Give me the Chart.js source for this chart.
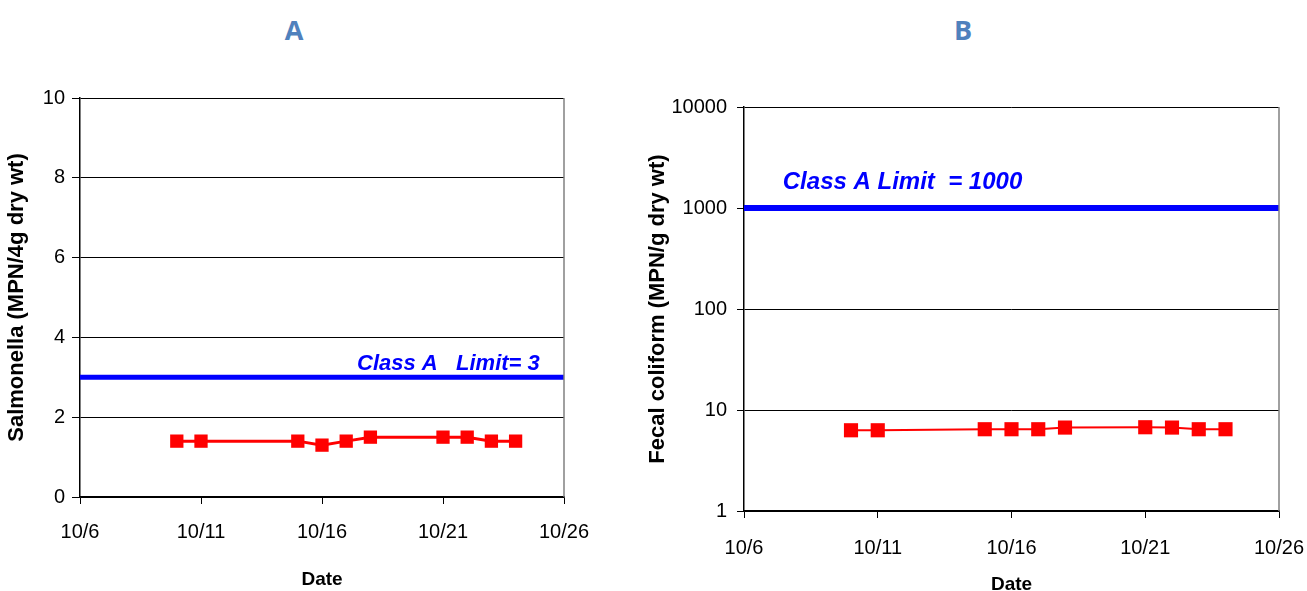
<!DOCTYPE html>
<html>
<head>
<meta charset="utf-8">
<script src="https://cdn.jsdelivr.net/npm/chart.js@4/dist/chart.umd.min.js"></script>
<style>
  html, body { margin: 0; padding: 0; background: #fff; overflow: hidden; }
  body { width: 1307px; height: 591px; position: relative; }
  canvas { position: absolute; top: 0; }
  #chartA { left: 0; }
  #chartB { left: 640px; }
  .panel {
    position: absolute; top: 11px;
    font: bold 27px "Liberation Sans Narrow", "Open Sans", sans-serif;
    color: #4F81BD; transform: translateX(-50%);
  }
</style>
</head>
<body>
<div class="panel" style="left:294px">A</div>
<div class="panel" style="left:963px">B</div>
<canvas id="chartA" width="640" height="591"></canvas>
<canvas id="chartB" width="667" height="600"></canvas>
<script>
// dados
const dates = ['10/10', '10/11', '10/15', '10/16', '10/17', '10/18', '10/21', '10/22', '10/23', '10/24'];
const salmonella = [1.4, 1.4, 1.4, 1.3, 1.4, 1.5, 1.5, 1.5, 1.4, 1.4];
const fecalColiform = [6.3, 6.3, 6.45, 6.45, 6.45, 6.7, 6.75, 6.7, 6.45, 6.45];
const limitRange = ['10/6', '10/26'];
const limitA = 3;
const limitB = 1000;
const xTicks = ['10/6', '10/11', '10/16', '10/21', '10/26'];
const yTicksA = [0, 2, 4, 6, 8, 10];
const yTicksB = [1, 10, 100, 1000, 10000];

const FONT = "'Liberation Sans', Arial, sans-serif";
const day = s => Number(s.split('/')[1]);
const xDays = xTicks.map(day);

// texto da linha limite + borda direita
const extras = {
    id: 'extras',
    afterDatasetsDraw(chart, args, opts) {
        const { ctx, chartArea, scales } = chart;
        ctx.save();
        ctx.strokeStyle = '#808080';
        ctx.lineWidth = 1.5;
        ctx.beginPath();
        ctx.moveTo(chartArea.right, chartArea.top);
        ctx.lineTo(chartArea.right, chartArea.bottom);
        ctx.stroke();
        ctx.font = opts.font;
        ctx.fillStyle = '#0000FF';
        ctx.textAlign = opts.align;
        ctx.textBaseline = 'alphabetic';
        ctx.fillText(opts.text, scales.x.getPixelForValue(opts.x),
            scales.y.getPixelForValue(opts.y) - opts.lift);
        ctx.restore();
    }
};

function xScale(height, pad, titlePad) {
    return {
        type: 'linear',
        min: xDays[0], max: xDays[xDays.length - 1],
        afterBuildTicks: s => { s.ticks = xDays.map(v => ({ value: v })); },
        afterFit: s => { s.height = height; s.paddingRight = 0; },
        ticks: {
            callback: v => '10/' + v,
            font: { family: FONT, size: 20 },
            color: '#000', padding: pad, maxRotation: 0
        },
        grid: { drawOnChartArea: false, tickLength: 7, color: '#000' },
        border: { color: '#000', width: 1.5 },
        title: {
            display: true, text: 'Date', color: '#000',
            font: { family: FONT, size: 19, weight: 'bold' },
            padding: { top: 0, bottom: titlePad }
        }
    };
}

function yTitle(text, padTop) {
    return {
        display: true, text: text, color: '#000',
        font: { family: FONT, size: 22, weight: 'bold' },
        padding: { top: padTop, bottom: 0 }
    };
}

// Gráfico A
new Chart(document.getElementById('chartA'), {
    type: 'line',
    data: {
        datasets: [{
            label: 'Class A   Limit= 3',
            data: limitRange.map(d => ({ x: day(d), y: limitA })),
            borderColor: '#0000FF', borderWidth: 5, pointRadius: 0
        }, {
            label: 'Salmonella',
            data: dates.map((d, i) => ({ x: day(d), y: salmonella[i] })),
            borderColor: '#FF0000', backgroundColor: '#FF0000',
            borderWidth: 3, pointStyle: 'rect', pointRadius: 9.4,
            pointBorderWidth: 0
        }]
    },
    options: {
        responsive: false, animation: false,
        layout: { padding: { top: 98, right: 76, bottom: 0, left: 0 } },
        plugins: {
            legend: { display: false }, tooltip: { enabled: false },
            extras: { text: 'Class A   Limit= 3', x: 25, y: limitA, lift: 7, align: 'right',
                      font: "italic bold 22px " + FONT }
        },
        scales: {
            x: xScale(94, 16, 0),
            y: {
                min: 0, max: 10,
                afterBuildTicks: s => { s.ticks = yTicksA.map(v => ({ value: v })); },
                afterFit: s => { s.width = 80; },
                ticks: { font: { family: FONT, size: 20 }, color: '#000', padding: 7 },
                grid: { color: '#000', tickLength: 8 },
                border: { color: '#000', width: 1.5 },
                title: yTitle('Salmonella (MPN/4g dry wt)', 4)
            }
        }
    },
    plugins: [extras]
});

// Gráfico B
new Chart(document.getElementById('chartB'), {
    type: 'line',
    data: {
        datasets: [{
            label: 'Class A Limit  = 1000',
            data: limitRange.map(d => ({ x: day(d), y: limitB })),
            borderColor: '#0000FF', borderWidth: 6, pointRadius: 0
        }, {
            label: 'Fecal coliform',
            data: dates.map((d, i) => ({ x: day(d), y: fecalColiform[i] })),
            borderColor: '#FF0000', backgroundColor: '#FF0000',
            borderWidth: 2, pointStyle: 'rect', pointRadius: 10,
            pointBorderWidth: 0
        }]
    },
    options: {
        responsive: false, animation: false,
        layout: { padding: { top: 107, right: 28, bottom: 0, left: 0 } },
        plugins: {
            legend: { display: false }, tooltip: { enabled: false },
            extras: { text: 'Class A Limit  = 1000', x: 7.45, y: limitB, lift: 19, align: 'left',
                      font: "italic bold 24px " + FONT }
        },
        scales: {
            x: xScale(89, 18, 4),
            y: {
                type: 'logarithmic', min: 1, max: 10000,
                afterBuildTicks: s => { s.ticks = yTicksB.map(v => ({ value: v })); },
                afterFit: s => { s.width = 104; },
                ticks: { font: { family: FONT, size: 20 }, color: '#000', padding: 10,
                         callback: v => String(v) },
                grid: { color: '#000', tickLength: 7 },
                border: { color: '#000', width: 1.5 },
                title: yTitle('Fecal coliform (MPN/g dry wt)', 5)
            }
        }
    },
    plugins: [extras]
});
</script>
</body>
</html>
